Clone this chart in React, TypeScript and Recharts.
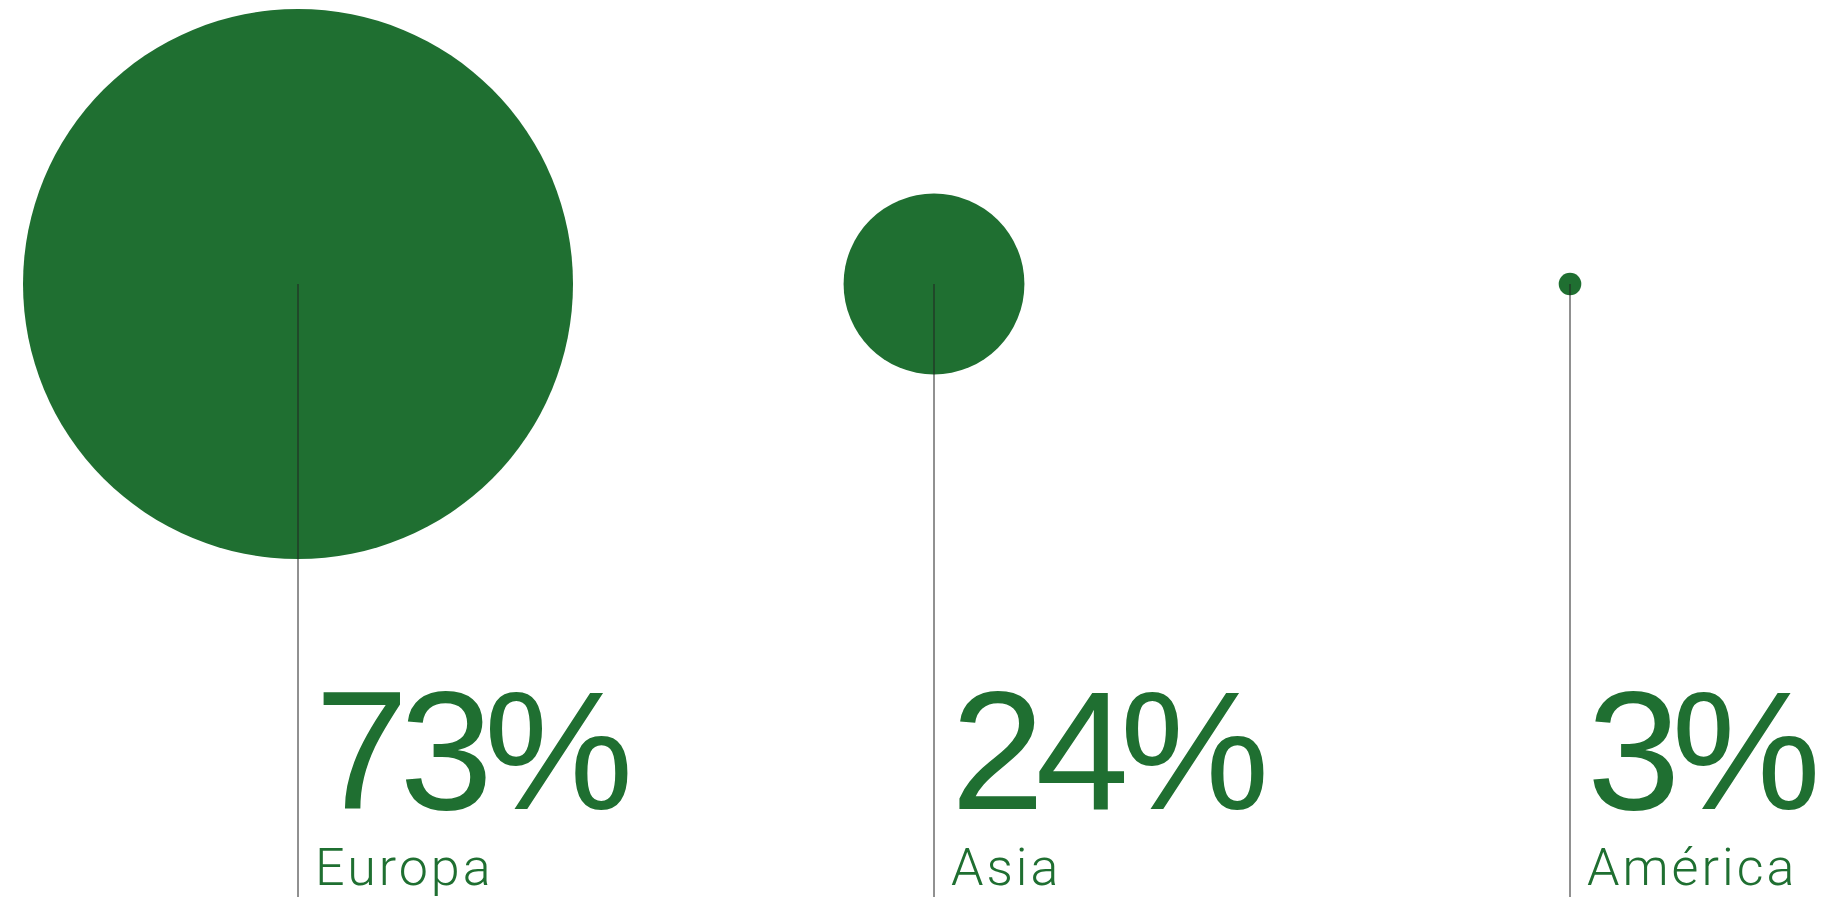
import { ScatterChart, Scatter, XAxis, YAxis, ZAxis } from 'recharts';

const regions = ['Europa', 'Asia', 'América'];
const shares = [73, 24, 3];

const GREEN = '#1f6f31';
const W = 1848;
const H = 897;

const points = regions.map((name, i) => ({ x: i, y: 1, value: shares[i], name }));

// circle radius comes from the ZAxis scale (range used as radius, not area)
function Bubble(props: any) {
  const { cx, cy, size, payload } = props;
  return (
    <g>
      <circle cx={cx} cy={cy} r={size} fill={GREEN} />
      <line x1={cx} y1={cy} x2={cx} y2={H} stroke="#222" strokeWidth={1} />
      <text
        x={cx + 17}
        y={cy + 525}
        fill={GREEN}
        fontFamily="'Liberation Sans', Arial, sans-serif"
        fontSize={168}
        fontWeight={400}
        letterSpacing={-9}
      >
        {payload.value}%
      </text>
      <text
        x={cx + 17}
        y={cy + 601}
        fill={GREEN}
        fontFamily="Roboto, sans-serif"
        fontSize={52}
        fontWeight={300}
        letterSpacing={3}
      >
        {payload.name}
      </text>
    </g>
  );
}

export default function App() {
  return (
    <div style={{ position: 'absolute', left: 0, top: 0, width: W, height: H, background: '#fff' }}>
      <ScatterChart width={W} height={H} margin={{ top: 284, right: 278, left: 298, bottom: 0 }}>
        <XAxis type="number" dataKey="x" domain={[0, 2]} hide />
        <YAxis type="number" dataKey="y" domain={[0, 1]} hide />
        <ZAxis type="number" dataKey="value" domain={[0, 73]} range={[0, 275]} />
        <Scatter data={points} shape={Bubble} isAnimationActive={false} />
      </ScatterChart>
    </div>
  );
}
